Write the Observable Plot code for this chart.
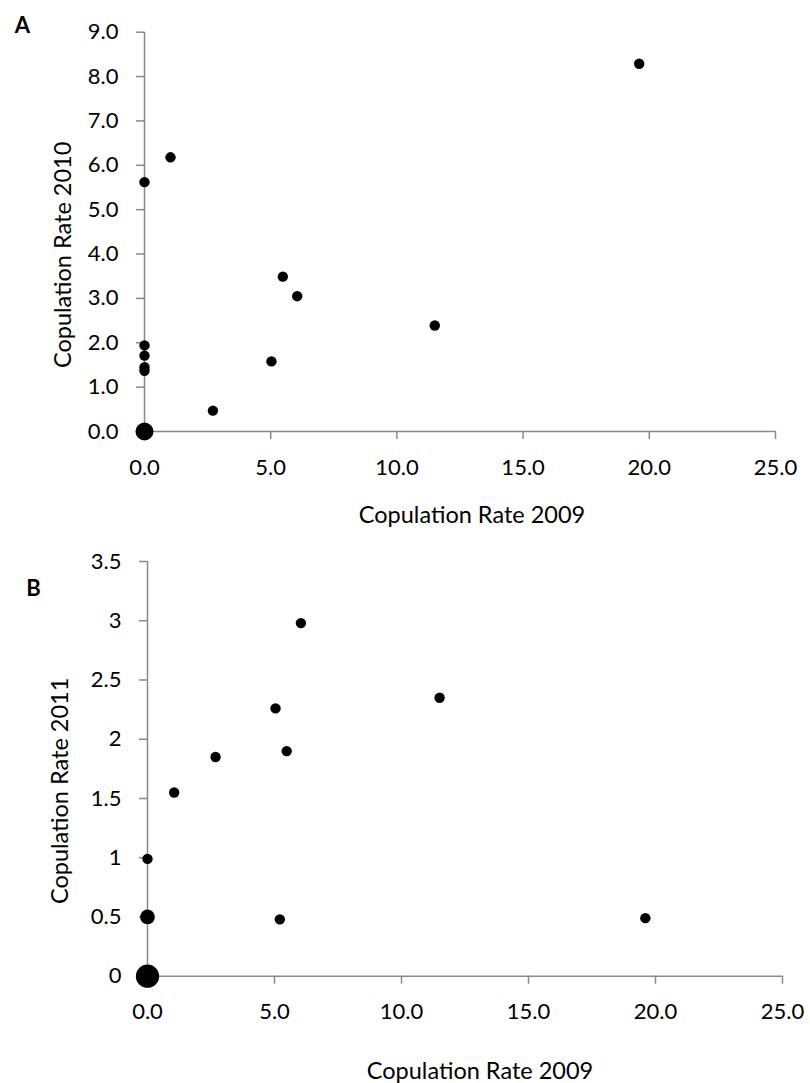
<!DOCTYPE html>
<html>
<head>
<meta charset="utf-8">
<script src="https://cdn.jsdelivr.net/npm/d3@7"></script>
<script src="https://cdn.jsdelivr.net/npm/@observablehq/plot@0.6"></script>
<style>
  html, body { margin: 0; padding: 0; background: #fff; }
  #chart svg { display: block; }
</style>
</head>
<body>
<div id="chart"></div>
<script>
// Panel A: copulation rate 2009 vs 2010
const rate2009A = [0, 0, 0, 0, 0, 0, 1.03, 2.71, 5.03, 5.48, 6.05, 11.5, 19.6];
const rate2010  = [0, 1.37, 1.45, 1.71, 1.94, 5.62, 6.18, 0.47, 1.58, 3.49, 3.05, 2.39, 8.29];
const countA    = [3, 1, 1, 1, 1, 1, 1, 1, 1, 1, 1, 1, 1];

// Panel B: copulation rate 2009 vs 2011
const rate2009B = [0, 0, 0, 1.05, 2.68, 5.04, 5.21, 5.48, 6.04, 11.5, 19.6];
const rate2011  = [0, 0.5, 0.99, 1.55, 1.85, 2.26, 0.48, 1.90, 2.98, 2.35, 0.49];
const countB    = [5, 2, 1, 1, 1, 1, 1, 1, 1, 1, 1];

const xTicks  = [0, 5, 10, 15, 20, 25];
const yTicksA = [0, 1, 2, 3, 4, 5, 6, 7, 8, 9];
const yTicksB = [0, 0.5, 1, 1.5, 2, 2.5, 3, 3.5];

const xTitle = "Copulation Rate 2009";
const yTitleA = "Copulation Rate 2010";
const yTitleB = "Copulation Rate 2011";

const dataA = rate2009A.map((x, i) => ({x, y: rate2010[i], n: countA[i]}));
const dataB = rate2009B.map((x, i) => ({x, y: rate2011[i], n: countB[i]}));

const AXIS = "#898989";
const FONT = "Lato, 'Open Sans', sans-serif";
const FS = 22;
const TS = 23.5;

function panel(o) {
  return Plot.plot({
    width: 810,
    height: o.height,
    marginLeft: o.ml, marginRight: o.mr, marginTop: o.mt, marginBottom: o.mb,
    style: {fontFamily: FONT, fontSize: FS + "px", color: "#000", background: "#fff"},
    x: {domain: [0, 25], ticks: xTicks},
    y: {domain: o.ydomain, ticks: o.yticks},
    r: {type: "sqrt", domain: [0, 1], range: [0, 5.2]},
    marks: [
      Plot.axisX(xTicks, {stroke: AXIS, strokeWidth: 1.5, fill: "#000", tickSize: 8, tickPadding: o.xpad,
        tickFormat: d => d.toFixed(1), label: null, fontSize: FS}),
      Plot.axisY(o.yticks, {stroke: AXIS, strokeWidth: 1.5, fill: "#000", tickSize: 8, tickPadding: 18,
        tickFormat: o.yfmt, label: null, fontSize: FS}),
      Plot.ruleY([0], {stroke: AXIS, strokeWidth: 1.5}),
      Plot.ruleX([0], {stroke: AXIS, strokeWidth: 1.5}),
      Plot.dot(o.data, {x: "x", y: "y", r: "n", fill: "#000", stroke: "none"}),
      Plot.text([xTitle], {frameAnchor: "bottom", text: d => d, textAnchor: "middle", lineAnchor: "middle",
        dx: o.xtdx, dy: o.xtdy, fontSize: TS, fill: "#000"}),
      Plot.text([o.ytitle], {frameAnchor: "left", text: d => d, rotate: -90, textAnchor: "middle", lineAnchor: "middle",
        dx: o.ytdx, dy: o.ytdy, fontSize: TS, fill: "#000"}),
      Plot.text([o.letter], {frameAnchor: "top-left", text: d => d, textAnchor: "middle", lineAnchor: "middle",
        dx: o.ldx, dy: o.ldy, fontSize: 22, fontWeight: "bold", fill: "#000"})
    ]
  });
}

const chart = document.getElementById("chart");
chart.append(panel({
  height: 545, ml: 144, mr: 35, mt: 31.7, mb: 114,
  ydomain: [0, 9], yticks: yTicksA, yfmt: d => d.toFixed(1), data: dataA,
  xpad: 20, xtdx: 12, xtdy: 83.5, ytitle: yTitleA, ytdx: -81, ytdy: 23,
  letter: "A", ldx: -122, ldy: -6
}));
chart.append(panel({
  height: 538, ml: 147, mr: 28, mt: 16, mb: 107.3,
  ydomain: [0, 3.5], yticks: yTicksB, yfmt: d => String(d), data: dataB,
  xpad: 19, xtdx: 15, xtdy: 95, ytitle: yTitleB, ytdx: -87, ytdy: 22,
  letter: "B", ldx: -114, ldy: 27
}));
</script>
</body>
</html>
